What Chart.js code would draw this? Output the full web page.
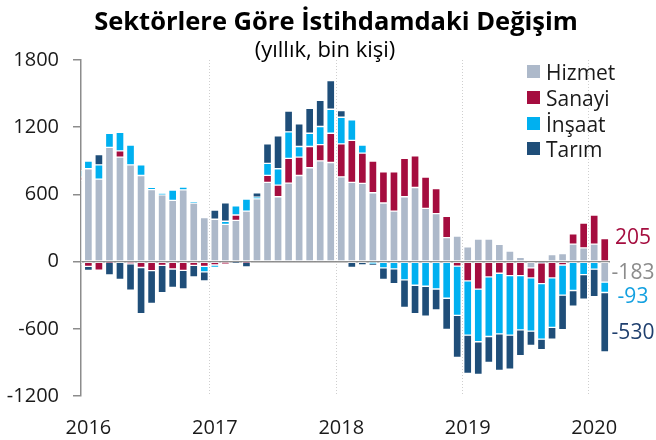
<!DOCTYPE html>
<html>
<head>
<meta charset="utf-8">
<script src="https://cdn.jsdelivr.net/npm/chart.js@4.4.1/dist/chart.umd.min.js"></script>
<style>
  html, body { margin: 0; padding: 0; background: #fff; }
  #wrap { position: relative; width: 656px; height: 440px; overflow: hidden; font-family: "Open Sans", sans-serif; }
  #c { position: absolute; left: 0; top: 0; }
  .t { position: absolute; white-space: nowrap; color: #000; }
  #title { left: 0; width: 672px; top: 6px; text-align: center; font-weight: bold; font-size: 25.5px; line-height: 28px; }
  #sub { left: 0; width: 650px; top: 35px; text-align: center; font-size: 22px; line-height: 26px; }
  .sq { position: absolute; left: 527px; width: 13px; height: 13px; }
  .lt { position: absolute; left: 546px; font-size: 21px; line-height: 20px; color: #1a1a1a; white-space: nowrap; }
</style>
</head>
<body>
<div id="wrap">
  <canvas id="c" width="656" height="440"></canvas>
  <div class="t" id="title">Sektörlere Göre İstihdamdaki Değişim</div>
  <div class="t" id="sub">(yıllık, bin kişi)</div>
  <div id="legend"></div>
</div>
<script>
// Months (annual change), Dec 2015 .. Feb 2020
const months = [
  '2015-12',
  '2016-01','2016-02','2016-03','2016-04','2016-05','2016-06','2016-07','2016-08','2016-09','2016-10','2016-11','2016-12',
  '2017-01','2017-02','2017-03','2017-04','2017-05','2017-06','2017-07','2017-08','2017-09','2017-10','2017-11','2017-12',
  '2018-01','2018-02','2018-03','2018-04','2018-05','2018-06','2018-07','2018-08','2018-09','2018-10','2018-11','2018-12',
  '2019-01','2019-02','2019-03','2019-04','2019-05','2019-06','2019-07','2019-08','2019-09','2019-10','2019-11','2019-12',
  '2020-01','2020-02'
];
const hizmet = [725,
  829, 737, 1020, 933, 864, 769, 642, 596, 547, 640, 523, 392,
  378, 333, 368, 451, 561, 708, 579, 701, 769, 838, 900, 885,
  757, 708, 698, 615, 523, 451, 579, 662, 475, 429, 214, 227,
  132, 202, 202, 154, 95, 39, -56, -12, 63, 72, 156, 122,
  156, -183];
const sanayi = [30,
  -42, -77, -5, 56, -19, -53, -81, -33, -66, -78, -33, -42,
  -30, -20, 48, -5, 0, 62, 104, 220, 164, 190, 145, 261,
  294, 375, 270, 282, 279, 351, 342, 282, 279, 223, 191, -40,
  -172, -246, -137, -104, -125, -125, -89, -184, -145, -30, 93, 223,
  260, 205];
const insaat = [60,
  68, 127, 125, 166, 176, 95, 22, 12, 92, 25, 10, -50,
  -22, 27, 83, 107, 15, 107, 146, 237, 95, 118, 161, 214,
  238, 182, 72, -20, -56, -65, -163, -211, -220, -245, -327, -440,
  -484, -470, -532, -541, -532, -484, -476, -496, -442, -270, -258, -116,
  -67, -93];
const tarim = [-30,
  -36, 92, -113, -158, -236, -413, -292, -244, -165, -165, -104, -80,
  83, 164, -8, -42, 39, 175, 294, 187, 202, 223, 234, 256,
  59, -53, -30, -10, -104, -131, -247, -255, -267, -186, -279, -375,
  -342, -291, -232, -327, -303, -232, -128, -95, -106, -308, -140, -220,
  -247, -530];
const yearLabels = ['2016', '2017', '2018', '2019', '2020'];
const seriesNames = ['Hizmet', 'Sanayi', 'İnşaat', 'Tarım'];
const yTicks = [-1200, -600, 0, 600, 1200, 1800];

const colors = ['#adb9ca', '#a50d3f', '#00b0f0', '#1f4e79'];
const endColors = ['#8c8c8c', '#a50d3f', '#13a0e0', '#1f3f6e'];
const FONT = '"Open Sans", sans-serif';

const janIdx = months.map((m, k) => m.endsWith('-01') ? k : null).filter(v => v !== null);
const toPts = arr => arr.map((v, k) => ({ x: k, y: v }));
const seriesData = [hizmet, sanayi, insaat, tarim];

// HTML legend
const lg = document.getElementById('legend');
seriesNames.forEach((n, i) => {
  const cy = 71.5 + i * 25.8;
  const sq = document.createElement('div');
  sq.className = 'sq';
  sq.style.top = (cy - 6.5) + 'px';
  sq.style.background = colors[i];
  lg.appendChild(sq);
  const t = document.createElement('div');
  t.className = 'lt';
  t.style.top = (cy - 9.5) + 'px';
  t.textContent = n;
  lg.appendChild(t);
});

const endLabels = {
  id: 'endLabels',
  afterDatasetsDraw(chart) {
    const ctx = chart.ctx;
    const last = months.length - 1;
    const nudges = [1, -12, 10, 11];
    chart.data.datasets.forEach((ds, di) => {
      const el = chart.getDatasetMeta(di).data[last];
      const y = (el.y + el.base) / 2 + nudges[di];
      ctx.save();
      ctx.font = '21px ' + FONT;
      ctx.fillStyle = endColors[di];
      ctx.textAlign = 'center';
      ctx.textBaseline = 'middle';
      ctx.fillText(String(seriesData[di][last]), chart.chartArea.right + 23, y);
      ctx.restore();
    });
  }
};

const XMIN = 0.3, XMAX = months.length - 0.5;

new Chart(document.getElementById('c'), {
  type: 'bar',
  data: {
    datasets: seriesNames.map((n, i) => ({
      label: n,
      data: toPts(seriesData[i]),
      backgroundColor: colors[i],
      borderColor: 'rgba(255,255,255,0.55)',
      borderWidth: 1,
      borderSkipped: false,
      barThickness: 8
    }))
  },
  options: {
    responsive: false,
    animation: false,
    layout: { padding: { left: 0, right: 46, top: 60, bottom: 0 } },
    plugins: { legend: { display: false }, tooltip: { enabled: false } },
    scales: {
      x: {
        type: 'linear', stacked: true, min: XMIN, max: XMAX, offset: false,
        grid: { display: false, offset: false }, border: { display: false },
        afterBuildTicks: s => { s.ticks = janIdx.map(v => ({ value: v })); },
        afterFit: s => { s.height = 44; s.paddingLeft = 0; s.paddingRight = 0; },
        ticks: {
          autoSkip: false, maxRotation: 0, padding: 12,
          color: '#1a1a1a', font: { family: FONT, size: 20 },
          callback: (v, i) => yearLabels[i]
        }
      },
      xg: {
        type: 'linear', position: 'bottom', min: XMIN, max: XMAX, offset: false,
        ticks: { display: false },
        border: { display: false, dash: [1, 2] },
        grid: { color: '#cfcfcf', lineWidth: 1, drawTicks: false, offset: false },
        afterBuildTicks: s => { s.ticks = janIdx.slice(1).map(v => ({ value: v - 0.5 })); },
        afterFit: s => { s.height = 0; s.paddingLeft = 0; s.paddingRight = 0; }
      },
      y: {
        stacked: true, min: -1200, max: 1800, z: 1,
        afterBuildTicks: s => { s.ticks = yTicks.map(v => ({ value: v })); },
        afterFit: s => { s.width = 81; },
        ticks: { padding: 14, color: '#1a1a1a', font: { family: FONT, size: 20 }, callback: v => String(v) },
        grid: {
          color: c => (c.tick && c.tick.value === 0) ? '#8c8c8c' : 'rgba(0,0,0,0)',
          lineWidth: 1.5, tickColor: '#8c8c8c', tickLength: 8, tickWidth: 1.5
        },
        border: { color: '#8c8c8c', width: 1.5 }
      }
    }
  },
  plugins: [endLabels]
});
</script>
</body>
</html>
